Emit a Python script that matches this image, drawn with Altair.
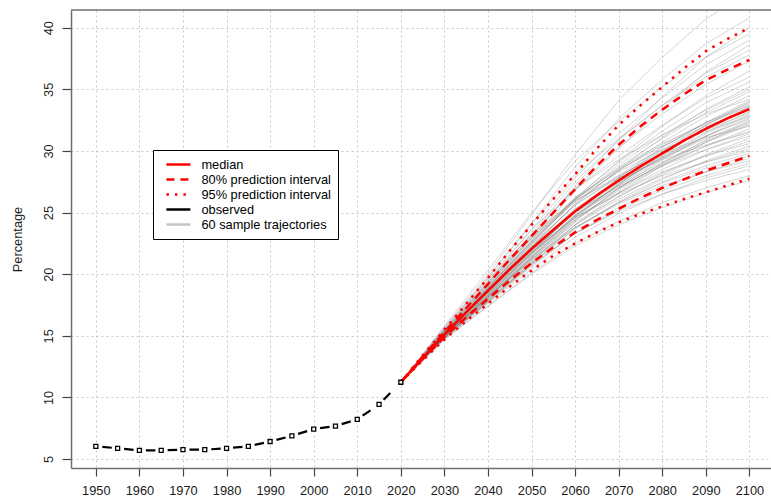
import altair as alt
import pandas as pd

# ---------------- data ----------------
obs_years = [1950, 1955, 1960, 1965, 1970, 1975, 1980, 1985, 1990, 1995, 2000, 2005, 2010, 2015, 2020]
obs_values = [6.03, 5.87, 5.70, 5.70, 5.76, 5.76, 5.87, 6.03, 6.42, 6.88, 7.43, 7.67, 8.22, 9.43, 11.23]

proj_years = [2020, 2025, 2030, 2035, 2040, 2045, 2050, 2055, 2060, 2065, 2070, 2075, 2080, 2085, 2090, 2095, 2100]
median = [11.23, 13.2, 15.1, 16.9, 18.65, 20.4, 22.05, 23.6, 25.1, 26.4, 27.6, 28.75, 29.8, 30.85, 31.8, 32.65, 33.4]
pi80_upper = [11.23, 13.3, 15.3, 17.25, 19.2, 21.2, 23.1, 25.0, 26.9, 28.8, 30.5, 32.0, 33.35, 34.6, 35.75, 36.6, 37.4]
pi80_lower = [11.23, 13.1, 14.9, 16.5, 18.0, 19.5, 20.9, 22.2, 23.4, 24.4, 25.3, 26.2, 27.0, 27.7, 28.4, 29.0, 29.6]
pi95_upper = [11.23, 13.4, 15.5, 17.6, 19.7, 21.9, 24.0, 26.1, 28.1, 30.2, 32.1, 33.7, 35.2, 36.7, 38.1, 39.1, 40.0]
pi95_lower = [11.23, 13.0, 14.7, 16.2, 17.6, 19.0, 20.3, 21.5, 22.5, 23.4, 24.2, 24.9, 25.5, 26.1, 26.65, 27.2, 27.75]

traj_start = 11.23
traj_years = [2020, 2030, 2040, 2050, 2060, 2070, 2080, 2090, 2100]
trajectories = [
    [15.7, 20.0, 24.8, 29.7, 34.1, 37.6, 40.7, 43.0],
    [15.5, 19.7, 24.1, 28.7, 32.6, 35.8, 38.7, 40.8],
    [15.2, 18.9, 22.9, 27.2, 30.9, 34.4, 37.6, 40.0],
    [15.8, 20.3, 25.0, 29.2, 32.4, 35.2, 37.6, 39.5],
    [15.4, 19.4, 23.6, 27.8, 31.4, 34.3, 37.0, 39.0],
    [15.2, 18.8, 22.7, 26.8, 30.2, 33.4, 36.4, 38.6],
    [15.4, 19.3, 23.3, 27.5, 30.9, 33.7, 36.3, 38.2],
    [15.6, 19.8, 24.1, 28.1, 31.0, 33.7, 36.0, 37.8],
    [15.3, 19.1, 23.1, 27.0, 30.3, 33.0, 35.4, 37.3],
    [15.2, 18.7, 22.4, 26.1, 29.2, 32.0, 34.5, 36.5],
    [15.4, 19.3, 23.2, 26.9, 29.6, 32.1, 34.3, 36.0],
    [15.2, 18.9, 22.6, 26.2, 29.1, 31.6, 33.9, 35.6],
    [15.1, 18.6, 22.2, 25.7, 28.5, 31.1, 33.4, 35.2],
    [15.3, 18.9, 22.6, 26.1, 28.7, 31.0, 33.1, 34.8],
    [15.2, 18.7, 22.2, 25.7, 28.4, 30.7, 32.8, 34.5],
    [15.6, 19.6, 23.6, 26.9, 29.3, 31.3, 33.0, 34.2],
    [14.9, 18.0, 21.3, 24.6, 27.3, 29.9, 32.1, 34.0],
    [15.2, 18.8, 22.3, 25.6, 28.0, 30.3, 32.3, 33.9],
    [15.0, 18.3, 21.7, 25.1, 27.8, 30.1, 32.1, 33.8],
    [15.3, 19.0, 22.6, 25.9, 28.4, 30.5, 32.3, 33.7],
    [15.1, 18.4, 21.8, 25.0, 27.6, 29.9, 31.9, 33.6],
    [14.9, 18.1, 21.4, 24.7, 27.3, 29.7, 31.8, 33.5],
    [15.1, 18.6, 22.0, 25.3, 27.7, 29.9, 31.8, 33.4],
    [15.4, 19.3, 23.0, 26.2, 28.5, 30.4, 32.0, 33.3],
    [15.0, 18.2, 21.5, 24.8, 27.3, 29.6, 31.5, 33.2],
    [15.2, 18.8, 22.4, 25.6, 27.9, 30.0, 31.7, 33.1],
    [15.1, 18.5, 21.9, 25.0, 27.4, 29.5, 31.4, 33.0],
    [14.8, 17.8, 21.0, 24.3, 27.0, 29.3, 31.2, 32.9],
    [15.3, 19.1, 22.9, 26.1, 28.3, 30.1, 31.6, 32.8],
    [15.0, 18.3, 21.6, 24.8, 27.2, 29.4, 31.2, 32.7],
    [15.1, 18.6, 22.1, 25.2, 27.5, 29.5, 31.2, 32.6],
    [14.9, 18.0, 21.2, 24.4, 26.9, 29.0, 30.9, 32.5],
    [15.2, 18.7, 22.2, 25.3, 27.5, 29.4, 31.0, 32.3],
    [15.0, 18.3, 21.6, 24.7, 27.0, 29.0, 30.7, 32.1],
    [15.4, 19.2, 22.9, 25.9, 28.0, 29.8, 31.1, 32.0],
    [14.9, 18.1, 21.4, 24.5, 26.8, 28.8, 30.4, 31.8],
    [15.1, 18.4, 21.7, 24.8, 27.0, 28.9, 30.4, 31.6],
    [15.0, 18.2, 21.4, 24.4, 26.6, 28.5, 30.1, 31.4],
    [15.2, 18.8, 22.2, 25.1, 27.1, 28.8, 30.1, 31.2],
    [14.9, 17.9, 21.0, 24.0, 26.3, 28.2, 29.7, 31.0],
    [15.0, 18.2, 21.3, 24.2, 26.3, 28.1, 29.6, 30.8],
    [15.1, 18.5, 21.7, 24.6, 26.6, 28.3, 29.6, 30.6],
    [14.8, 17.8, 20.8, 23.7, 25.9, 27.7, 29.2, 30.4],
    [15.0, 18.1, 21.2, 24.0, 26.1, 27.8, 29.1, 30.2],
    [15.2, 18.6, 21.8, 24.6, 26.5, 28.0, 29.1, 30.0],
    [14.9, 17.9, 20.9, 23.7, 25.8, 27.5, 28.8, 29.8],
    [15.0, 18.1, 21.1, 23.8, 25.8, 27.4, 28.6, 29.6],
    [14.8, 17.7, 20.6, 23.3, 25.4, 27.0, 28.3, 29.4],
    [15.0, 18.2, 21.2, 23.8, 25.7, 27.2, 28.3, 29.2],
    [14.9, 17.8, 20.7, 23.3, 25.2, 26.8, 28.0, 29.0],
    [14.8, 17.6, 20.4, 23.0, 24.9, 26.5, 27.8, 28.8],
    [14.9, 17.9, 20.8, 23.3, 25.1, 26.5, 27.6, 28.5],
    [14.7, 17.4, 20.1, 22.5, 24.3, 25.8, 27.0, 28.0],
    [15.5, 19.5, 23.2, 26.0, 27.8, 29.3, 30.5, 31.5],
    [14.8, 17.7, 20.8, 24.0, 26.6, 28.8, 30.7, 32.4],
    [15.3, 19.0, 22.7, 26.1, 28.6, 30.6, 32.2, 33.6],
    [15.0, 18.3, 21.7, 25.1, 27.8, 30.3, 32.3, 34.1],
    [15.2, 18.8, 22.5, 26.0, 28.9, 31.3, 33.3, 35.0],
    [14.7, 17.4, 20.0, 22.3, 24.0, 25.4, 26.6, 27.6],
    [15.1, 18.5, 21.9, 25.0, 27.2, 29.1, 30.8, 32.2],
]

x_ticks = [1950, 1960, 1970, 1980, 1990, 2000, 2010, 2020, 2030, 2040, 2050, 2060, 2070, 2080, 2090, 2100]
y_ticks = [5, 10, 15, 20, 25, 30, 35, 40]

legend_labels = ["median", "80% prediction interval", "95% prediction interval",
                 "observed", "60 sample trajectories"]
legend_colors = ["#ff0000", "#ff0000", "#ff0000", "#000000", "#c4c4c4"]
legend_dashes = [[1, 0], [8, 6], [2.5, 6], [1, 0], [1, 0]]

# ---------------- tables ----------------
traj_rows = []
for i, tr in enumerate(trajectories):
    vals = [traj_start] + tr
    for yr, v in zip(traj_years, vals):
        traj_rows.append({"traj": i, "year": yr, "value": v})
traj_df = pd.DataFrame(traj_rows)

proj_rows = []
for series, band, vals in [
    ("95% prediction interval", "upper", pi95_upper),
    ("95% prediction interval", "lower", pi95_lower),
    ("80% prediction interval", "upper", pi80_upper),
    ("80% prediction interval", "lower", pi80_lower),
    ("median", "mid", median),
]:
    for yr, v in zip(proj_years, vals):
        proj_rows.append({"series": series, "band": band, "year": yr, "value": v})
proj_df = pd.DataFrame(proj_rows)

seg_rows = []
for i in range(len(obs_years) - 1):
    seg_rows.append({"seg": i, "year": obs_years[i], "value": obs_values[i]})
    seg_rows.append({"seg": i, "year": obs_years[i + 1], "value": obs_values[i + 1]})
seg_df = pd.DataFrame(seg_rows)
obs_df = pd.DataFrame({"year": obs_years, "value": obs_values})

# ---------------- scales / axes ----------------
W, H = 700, 458
FONT = "Liberation Sans"
FS = 12.8

x_scale = alt.Scale(domain=[1944.3, 2104.96], nice=False, zero=False)
y_scale = alt.Scale(domain=[4.27, 41.44], nice=False, zero=False)

x_axis = alt.Axis(
    values=x_ticks, format="d", title=None, grid=True,
    gridColor="#c8c8c8", gridDash=[2, 3], gridWidth=1,
    domainColor="#6f6f6f", domainWidth=1.5,
    tickColor="#444444", tickSize=8, tickWidth=1.2,
    labelFont=FONT, labelFontSize=FS, labelColor="#1a1a1a",
    labelBaseline="alphabetic", labelPadding=18,
    labelFlush=False, labelOverlap=False,
)
y_axis = alt.Axis(
    values=y_ticks, title="Percentage", grid=True,
    gridColor="#c8c8c8", gridDash=[2, 3], gridWidth=1,
    domainColor="#6f6f6f", domainWidth=1.5,
    tickColor="#444444", tickSize=9, tickWidth=1.2,
    labelFont=FONT, labelFontSize=FS, labelColor="#1a1a1a",
    labelAngle=270, labelAlign="center", labelBaseline="alphabetic",
    labelPadding=10, labelFlush=False, labelOverlap=False,
    titleFont=FONT, titleFontSize=FS, titleFontWeight="normal", titleColor="#1a1a1a",
    titleAngle=270, titleAlign="center", titleBaseline="alphabetic",
    titleX=-50, titleY=229,
)

X = alt.X("year:Q", scale=x_scale, axis=x_axis)
Y = alt.Y("value:Q", scale=y_scale, axis=y_axis)

legend = alt.Legend(
    title=None, orient="none", legendX=82, legendY=140, direction="vertical",
    fillColor="white", strokeColor="black", padding=7, rowPadding=0,
    symbolType="M-0.183,0H3.817", symbolSize=144, symbolStrokeWidth=2.5, symbolOffset=0,
    labelOffset=26.4, labelFont=FONT, labelFontSize=FS, labelColor="#000000",
    labelLimit=400, labelBaseline="middle",
)

traj_layer = alt.Chart(traj_df).mark_line(
    color="#6a6a6a", strokeWidth=1, opacity=0.28, clip=True
).encode(x=X, y=Y, detail="traj:N")

proj_layer = alt.Chart(proj_df).mark_line(strokeWidth=2.5, clip=True).encode(
    x=X, y=Y,
    color=alt.Color("series:N", scale=alt.Scale(domain=legend_labels, range=legend_colors), legend=legend),
    strokeDash=alt.StrokeDash("series:N", scale=alt.Scale(domain=legend_labels, range=legend_dashes), legend=legend),
    detail="band:N",
)

obs_line = alt.Chart(seg_df).mark_line(
    color="black", strokeWidth=2.2, strokeDash=[0, 6.5, 9.5, 200]
).encode(x=X, y=Y, detail="seg:N")

obs_pts = alt.Chart(obs_df).mark_point(
    shape="square", size=16, fill="white", stroke="black", strokeWidth=1.3, opacity=1, filled=True
).encode(x=X, y=Y)

top_border = alt.Chart(pd.DataFrame({"k": [0]})).mark_rule(
    color="#6f6f6f", strokeWidth=1.5
).encode(x=alt.value(0), x2=alt.value(W), y=alt.value(0))

chart = alt.layer(traj_layer, proj_layer, obs_line, obs_pts, top_border).properties(
    width=W, height=H,
    padding={"left": 71, "top": 10, "right": 0, "bottom": 32},
    autosize=alt.AutoSizeParams(type="none"),
    background="white",
).configure_view(stroke=None)

chart.save("out.html", embed_options={"renderer": "svg", "actions": False})
